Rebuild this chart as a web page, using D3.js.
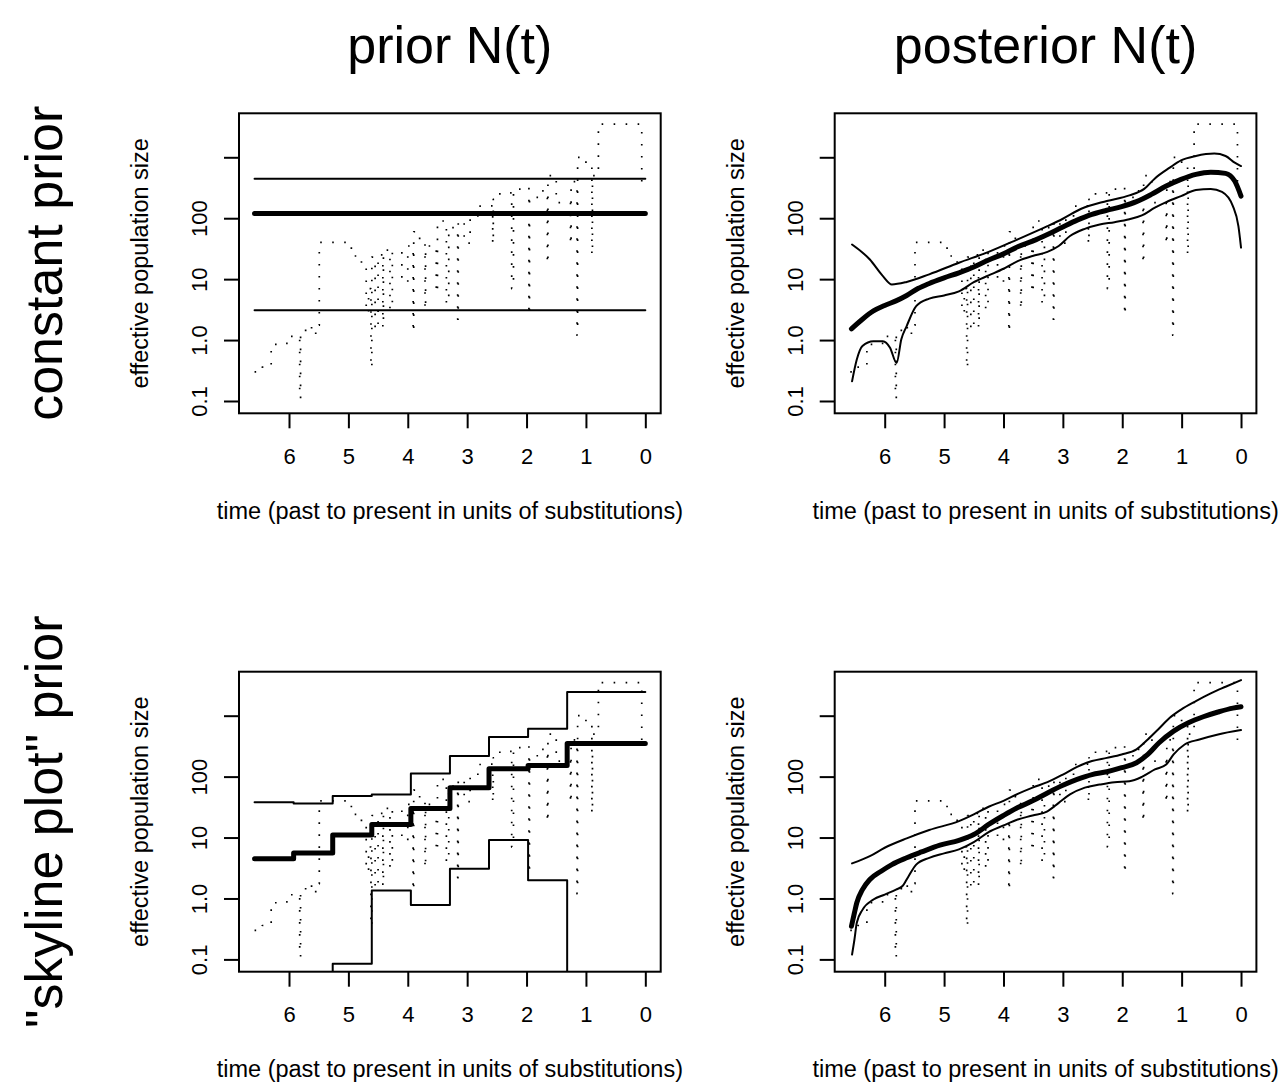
<!DOCTYPE html>
<html>
<head>
<meta charset="utf-8">
<script src="https://cdn.jsdelivr.net/npm/d3@7"></script>
<style>
  html, body { margin: 0; padding: 0; background: #fff; }
  svg { display: block; }
  text { font-family: "Liberation Sans", Arial, Helvetica, sans-serif; fill: #000; }
</style>
</head>
<body>
<svg id="chart" width="1282" height="1085"></svg>
<script>
// ---------------- data ----------------
const colTitles = ["prior N(t)", "posterior N(t)"];
const rowTitles = ["constant prior", "\"skyline plot\" prior"];
const xTicks = [6, 5, 4, 3, 2, 1, 0];
const yTicks = [0.1, 1, 10, 100, 1000];
const yTickLabels = ["0.1", "1.0", "10", "100", ""];
const xLabel = "time (past to present in units of substitutions)";
const yLabel = "effective population size";

// classic skyline plot (dotted, same in every panel): interval boundaries and Ne per interval
const skyT = [6.58, 6.45, 6.30, 6.10, 5.98, 5.82, 5.805, 5.72, 5.62, 5.55, 5.49,
  4.95, 4.78, 4.70, 4.66, 4.62, 4.605, 4.55, 4.50, 4.42, 4.41,
  4.30, 4.26, 4.10, 4.00, 3.91, 3.90, 3.80, 3.71, 3.70, 3.52,
  3.50, 3.35, 3.31, 3.16, 3.15, 3.05, 2.95, 2.82, 2.70, 2.57,
  2.56, 2.45, 2.25, 2.22, 2.10, 1.96, 1.95, 1.80, 1.65, 1.64,
  1.50, 1.26, 1.25, 1.15, 1.14, 1.00, 0.90, 0.89, 0.79, 0.06, 0];
const skyN = [0.30, 0.36, 0.85, 0.88, 1.15, 0.11, 1.3, 1.7, 1.24, 1.75,
  40, 24, 17, 2.8, 7, 0.35, 23, 1.5, 25, 1.6,
  30, 3.2, 28, 9, 35, 1.35, 60, 45, 3.2, 35,
  6, 90, 4, 70, 2.2, 90, 39, 100, 158, 160,
  38, 204, 260, 7, 300, 320, 2.6, 220, 280, 18,
  500, 180, 37, 400, 1.2, 1000, 750, 25, 500, 3500, 380];

// constant prior
const constT = [6.58, 0];
const constMean = [120, 120];
const constUpper = [445, 445];
const constLower = [3.1, 3.1];

// posterior with constant prior
const postCT = [6.56, 6.375, 6.19, 6.0, 5.81, 5.63, 5.44, 5.25, 5.0, 4.75, 4.5, 4.25, 4.0, 3.76, 3.51,
  3.26, 3.0, 2.76, 2.51, 2.26, 2.01, 1.76, 1.51, 1.26, 1.01, 0.76, 0.51, 0.26, 0.106, 0];
const postCMean = [1.53, 2.2, 3.0, 3.7, 4.4, 5.4, 7.0, 8.5, 10.5, 12.7, 15.8, 20.6, 26, 34, 42,
  54, 72, 93, 116, 135, 155, 187, 246, 337, 435, 525, 570, 545, 407, 231];
const postCUT = [6.55, 6.25, 6.03, 5.88, 5.63, 5.25, 4.75, 4.25, 3.76, 3.26, 3.0, 2.69, 2.26, 1.88,
  1.63, 1.45, 1.20, 1.01, 0.76, 0.45, 0.26, 0.106, 0];
const postCUpper = [37, 21, 11.2, 8.2, 9, 12, 18.6, 28, 45, 74, 98, 143, 192, 237,
  303, 450, 675, 890, 1050, 1150, 1050, 815, 718];
const postCLT = [6.55, 6.47, 6.375, 6.19, 6.03, 5.91, 5.80, 5.72, 5.63, 5.47, 5.25, 5.0, 4.75, 4.5,
  4.25, 4.0, 3.76, 3.51, 3.26, 3.07, 2.88, 2.63, 2.38, 2.13, 1.88, 1.67, 1.45, 1.26, 1.01,
  0.76, 0.51, 0.32, 0.137, 0.044, 0];
const postCLower = [0.21, 0.48, 0.80, 0.96, 0.96, 0.75, 0.42, 1.03, 1.7, 3.6, 4.8, 5.4, 6.3, 8.9,
  11.5, 14.8, 19.8, 24, 28, 35, 51, 67, 79, 86, 96, 111, 149, 184, 231,
  290, 303, 270, 158, 74, 33];

// skyline prior (piecewise constant)
const skyPriorT = [6.58, 5.922, 5.264, 4.606, 3.948, 3.29, 2.632, 1.974, 1.316, 0.658, 0];
const skyPriorMean = [4.5, 5.6, 11, 16.4, 30, 65.7, 135, 152, 350, 350];
const skyPriorUpper = [38, 36.3, 47.9, 51, 112, 217, 446, 610, 2440, 2440];
const skyPriorLower = [0.01, 0.01, 0.085, 1.35, 0.78, 3.07, 9.1, 2.0, 0.001, 0.001];

// posterior with skyline prior
const postST = [6.56, 6.51, 6.47, 6.375, 6.25, 6.06, 5.88, 5.63, 5.38, 5.07, 4.75, 4.5, 4.25, 4.0,
  3.76, 3.51, 3.26, 3.0, 2.76, 2.51, 2.26, 2.01, 1.76, 1.57, 1.38, 1.135, 0.886, 0.636, 0.387, 0.137, 0];
const postSMean = [0.35, 0.58, 0.85, 1.4, 2.05, 2.8, 3.6, 4.65, 5.8, 7.5, 9.0, 11.2, 16.4, 23,
  31, 40, 54, 72, 90, 108, 120, 140, 169, 231, 359, 558, 765, 960, 1150, 1333, 1400];
const postSUT = [6.55, 6.25, 6.0, 5.63, 5.25, 4.75, 4.5, 4.25, 4.0, 3.76, 3.51, 3.26, 3.0, 2.76,
  2.51, 2.26, 2.01, 1.76, 1.57, 1.38, 1.20, 1.01, 0.76, 0.51, 0.26, 0];
const postSUpper = [3.76, 4.95, 6.8, 9.7, 13.3, 18.6, 24, 32, 40, 52, 66, 81, 108, 145,
  180, 203, 231, 280, 407, 617, 925, 1260, 1735, 2320, 2985, 3840];
const postSLT = [6.55, 6.51, 6.47, 6.375, 6.19, 6.0, 5.81, 5.70, 5.6, 5.47, 5.25, 5.0, 4.75, 4.5,
  4.25, 4.0, 3.76, 3.51, 3.26, 3.07, 2.88, 2.63, 2.38, 2.13, 1.88, 1.67, 1.45, 1.26, 1.135,
  0.95, 0.70, 0.387, 0];
const postSLower = [0.12, 0.21, 0.40, 0.65, 0.96, 1.16, 1.4, 1.6, 2.3, 3.6, 4.65, 5.5, 6.4, 8.4,
  12.3, 15.8, 19.8, 23, 27, 37, 51, 66, 74, 81, 84, 99, 131, 158, 231,
  337, 407, 492, 580];

// ---------------- layout ----------------
const svg = d3.select("#chart");
const pw = 421.7, ph = 300;
const colX = [239, 834.7];
const rowY = [113.3, 671.7];
const thin = 2, thick = 5;

const x = d3.scaleLinear().domain([6.842, -0.259]).range([0, pw]);
const y = d3.scaleLog().domain([Math.pow(10, -1.202), Math.pow(10, 3.722)]).range([ph, 0]);

const zip = (ts, vs) => ts.map((t, i) => [t, vs[i]]);
const stepPts = (ts, vs) => vs.map((v, i) => [ts[i], v]).concat([[ts[ts.length - 1], vs[vs.length - 1]]]);

const smooth = d3.line().x(d => x(d[0])).y(d => y(d[1])).curve(d3.curveMonotoneX);
const step = d3.line().x(d => x(d[0])).y(d => y(d[1])).curve(d3.curveStepAfter);
const straight = d3.line().x(d => x(d[0])).y(d => y(d[1]));

const panels = [
  { r: 0, c: 0, draw: g => {
      g.append("path").attr("d", straight(zip(constT, constUpper))).attr("stroke-width", thin);
      g.append("path").attr("d", straight(zip(constT, constLower))).attr("stroke-width", thin);
      g.append("path").attr("d", straight(zip(constT, constMean))).attr("stroke-width", thick);
  }},
  { r: 0, c: 1, draw: g => {
      g.append("path").attr("d", smooth(zip(postCUT, postCUpper))).attr("stroke-width", thin);
      g.append("path").attr("d", smooth(zip(postCLT, postCLower))).attr("stroke-width", thin);
      g.append("path").attr("d", smooth(zip(postCT, postCMean))).attr("stroke-width", thick);
  }},
  { r: 1, c: 0, draw: g => {
      g.append("path").attr("d", step(stepPts(skyPriorT, skyPriorUpper))).attr("stroke-width", thin);
      g.append("path").attr("d", step(stepPts(skyPriorT, skyPriorLower))).attr("stroke-width", thin);
      g.append("path").attr("d", step(stepPts(skyPriorT, skyPriorMean))).attr("stroke-width", thick);
  }},
  { r: 1, c: 1, draw: g => {
      g.append("path").attr("d", smooth(zip(postSUT, postSUpper))).attr("stroke-width", thin);
      g.append("path").attr("d", smooth(zip(postSLT, postSLower))).attr("stroke-width", thin);
      g.append("path").attr("d", smooth(zip(postST, postSMean))).attr("stroke-width", thick);
  }}
];

panels.forEach((p, i) => {
  const g = svg.append("g").attr("transform", `translate(${colX[p.c]},${rowY[p.r]})`);
  const cid = "clip" + i;
  g.append("clipPath").attr("id", cid).append("rect")
    .attr("x", 0).attr("y", 0).attr("width", pw).attr("height", ph);

  const data = g.append("g").attr("clip-path", `url(#${cid})`)
    .attr("fill", "none").attr("stroke", "#000")
    .attr("stroke-linecap", "round").attr("stroke-linejoin", "round");

  // dotted classic skyline
  data.append("path").attr("d", step(stepPts(skyT, skyN)))
    .attr("stroke-width", 1.7).attr("stroke-dasharray", "1.6 10.4")
    .attr("stroke-linecap", "butt");

  p.draw(data);

  // box
  g.append("rect").attr("x", 0).attr("y", 0).attr("width", pw).attr("height", ph)
    .attr("fill", "none").attr("stroke", "#000").attr("stroke-width", 2);

  // x axis
  const xa = g.append("g").attr("transform", `translate(0,${ph})`)
    .call(d3.axisBottom(x).tickValues(xTicks).tickSize(15).tickFormat(d3.format("d")));
  xa.select(".domain").remove();
  xa.selectAll(".tick line").attr("stroke", "#000").attr("stroke-width", 2);
  xa.selectAll(".tick text").attr("y", 50.7).attr("dy", 0)
    .style("font-size", "22px").style("font-family", "'Liberation Sans', Arial, sans-serif");

  // y axis
  const ya = g.append("g")
    .call(d3.axisLeft(y).tickValues(yTicks).tickSize(15).tickFormat((d, k) => yTickLabels[k]));
  ya.select(".domain").remove();
  ya.selectAll(".tick line").attr("stroke", "#000").attr("stroke-width", 2);
  ya.selectAll(".tick text").attr("x", 0).attr("dy", 0)
    .attr("transform", "translate(-32,0) rotate(-90)").attr("text-anchor", "middle")
    .style("font-size", "22px").style("font-family", "'Liberation Sans', Arial, sans-serif");

  // axis labels
  g.append("text").attr("x", pw / 2).attr("y", ph + 105.7).attr("text-anchor", "middle")
    .style("font-size", "23.5px").text(xLabel);
  g.append("text").attr("transform", `translate(-91,${ph / 2}) rotate(-90)`)
    .attr("text-anchor", "middle").style("font-size", "23.5px").text(yLabel);
});

// column titles
colTitles.forEach((t, c) => {
  svg.append("text").attr("x", colX[c] + pw / 2).attr("y", 63).attr("text-anchor", "middle")
    .style("font-size", "52px").text(t);
});
// row titles
rowTitles.forEach((t, r) => {
  svg.append("text").attr("transform", `translate(62,${rowY[r] + ph / 2}) rotate(-90)`)
    .attr("text-anchor", "middle").style("font-size", "52px").text(t);
});
</script>
</body>
</html>
